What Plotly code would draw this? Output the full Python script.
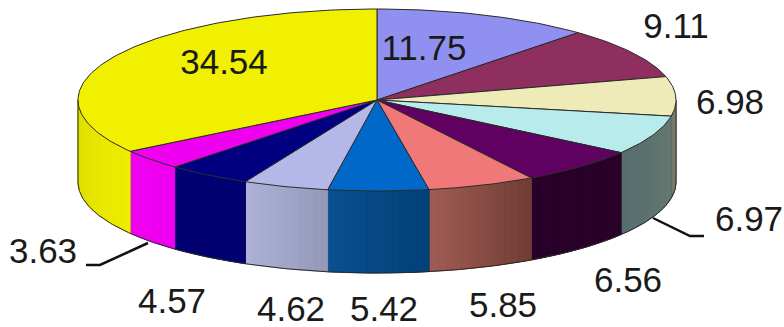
import numpy as np
import plotly.graph_objects as go

# --- data ---
values = [11.75, 9.11, 6.98, 6.97, 6.56, 5.85, 5.42, 4.62, 4.57, 3.63, 34.54]
labels = ["11.75", "9.11", "6.98", "6.97", "6.56", "5.85", "5.42", "4.62", "4.57", "3.63", "34.54"]

# --- styles ---
top_colors = ["#9090F0", "#8F2F60", "#EEEBB8", "#B8ECEC", "#600060", "#F07878",
              "#0068C8", "#B4B8E8", "#000080", "#F000F0", "#F0F000"]
side_right = ["#6A6A90", "#5A2040", "#8C8C6C", "#667870", "#280028", "#703C34",
              "#004078", "#9498B8", "#000070", "#F000F0", "#EDED00"]
side_left = ["#6A6A90", "#5A2040", "#6C7868", "#566E6E", "#280028", "#A05C54",
             "#0A5090", "#AEB2D8", "#000070", "#F000F0", "#DCDC00"]
edge = "#2A2A2A"

# --- layout constants (pixels) ---
W, H = 784, 327
CX, CY, RX, RY, DEPTH = 377, 100, 299, 91, 82
label_pos = [(424, 51), (676, 29), (730, 105), (749, 222), (628, 283), (503, 308),
             (384, 312), (291, 312), (172, 304), (43, 254), (224, 65)]
leaders = [([86, 100, 148], [265, 265, 243]), ([704, 690, 653], [236, 236, 218])]


def rim(deg, drop=0.0):
    t = np.radians(deg)
    return CX + RX * np.sin(t), CY - RY * np.cos(t) + drop


def mix(a, b, f):
    ca = [int(a[i:i + 2], 16) for i in (1, 3, 5)]
    cb = [int(b[i:i + 2], 16) for i in (1, 3, 5)]
    return "rgb({},{},{})".format(*[round(x + (y - x) * f) for x, y in zip(ca, cb)])


cum = np.concatenate([[0], np.cumsum(values)]) / sum(values) * 360
fig = go.Figure()


def poly(x, y, fill, line=None, width=1):
    fig.add_trace(go.Scatter(x=list(x), y=list(y), mode="lines", fill="toself", fillcolor=fill,
                             line=dict(color=line or fill, width=width), hoverinfo="skip"))


# side wall strips
for i in range(len(values)):
    a0, a1 = max(cum[i], 90), min(cum[i + 1], 270)
    if a1 <= a0:
        continue
    edges = np.linspace(a0, a1, max(2, int((a1 - a0) / 1.5) + 1))
    for k in range(len(edges) - 1):
        aa, bb = edges[k], edges[k + 1]
        xa, ya = rim(aa)
        xb, yb = rim(bb)
        f = (k + 0.5) / (len(edges) - 1)
        poly([xa, xb, xb, xa, xa], [ya, yb, yb + DEPTH, ya + DEPTH, ya], mix(side_right[i], side_left[i], f))
    # wall separator at the slice end
    if cum[i + 1] < 270:
        xb, yb = rim(cum[i + 1])
        fig.add_trace(go.Scatter(x=[xb, xb], y=[yb, yb + DEPTH], mode="lines",
                                 line=dict(color=edge, width=1), hoverinfo="skip"))

# outline of the wall
ang = np.linspace(90, 270, 241)
bx, by = rim(ang, DEPTH)
fig.add_trace(go.Scatter(x=bx, y=by, mode="lines", line=dict(color=edge, width=1), hoverinfo="skip"))
for a in (90, 270):
    xa, ya = rim(a)
    fig.add_trace(go.Scatter(x=[xa, xa], y=[ya, ya + DEPTH], mode="lines",
                             line=dict(color=edge, width=1), hoverinfo="skip"))

# top face
for i in range(len(values)):
    ts = np.linspace(cum[i], cum[i + 1], max(3, int(cum[i + 1] - cum[i]) + 2))
    x, y = rim(ts)
    poly([CX, *x, CX], [CY, *y, CY], top_colors[i], edge, 1)

# leader lines
for lx, ly in leaders:
    fig.add_trace(go.Scatter(x=lx, y=ly, mode="lines", line=dict(color="#111111", width=2.5), hoverinfo="skip"))

# labels
fig.add_trace(go.Scatter(
    x=[p[0] for p in label_pos], y=[p[1] for p in label_pos], mode="text", text=labels,
    textposition="middle center",
    textfont=dict(family="Liberation Sans, Arial, sans-serif", size=35, color="#1A1A1A"),
    hoverinfo="skip"))

fig.update_layout(
    width=W, height=H, margin=dict(l=0, r=0, t=0, b=0), showlegend=False,
    paper_bgcolor="white", plot_bgcolor="white",
    xaxis=dict(range=[0, W], visible=False, fixedrange=True),
    yaxis=dict(range=[H, 0], visible=False, fixedrange=True),
)
fig.write_html("out.html", config={"displayModeBar": False},
               post_script="document.body.style.margin='0';document.body.style.overflow='hidden';")
